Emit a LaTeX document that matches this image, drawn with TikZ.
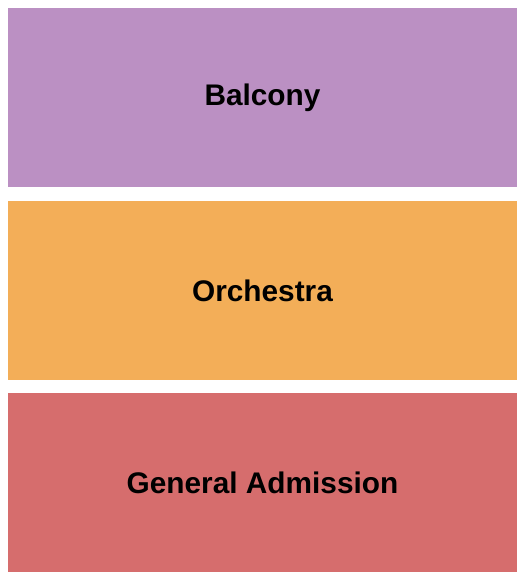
\documentclass[tikz,border=0pt]{standalone}
\usepackage{fontspec}
\setmainfont{Liberation Sans}
\definecolor{balconycolor}{HTML}{BB90C3}
\definecolor{orchestracolor}{HTML}{F3AE58}
\definecolor{gacolor}{HTML}{D66D6D}
\tikzset{
    section/.style={minimum width=509pt, minimum height=179pt, inner sep=0pt,
        font=\fontsize{29.8}{34}\selectfont\bfseries, text=black}
}
\begin{document}
\begin{tikzpicture}[x=1pt,y=-1pt]

    \useasboundingbox[fill=white] (0,0) rectangle (525,580);

    \node[section,fill=balconycolor] (balcony) at (262.5,97.5) {Balcony};

    \node[section,fill=orchestracolor] (orchestra) at (262.5,290.5) {Orchestra};

    \node[section,fill=gacolor] (general admission) at (262.5,482.5) {General Admission};

\end{tikzpicture}
\end{document}
